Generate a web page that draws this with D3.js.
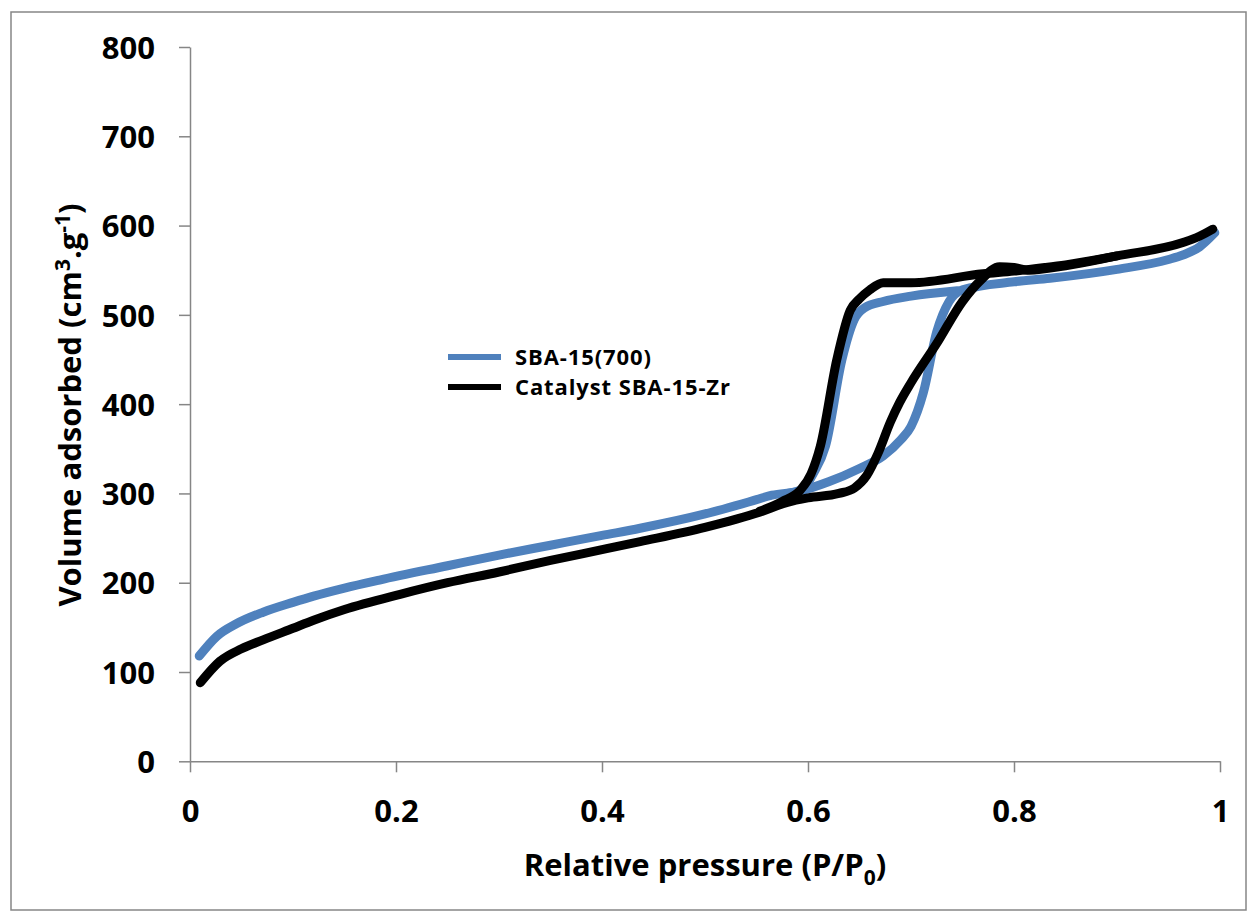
<!DOCTYPE html>
<html>
<head>
<meta charset="utf-8">
<script src="https://cdn.jsdelivr.net/npm/d3@7"></script>
<style>
  body { margin: 0; background: #fff; }
  text { font-family: "Open Sans", "Liberation Sans", sans-serif; font-weight: bold; fill: #000; }
</style>
</head>
<body>
<div id="chart"></div>
<script>
// relative pressure / volume adsorbed
const sbaAdsP = [0.009, 0.026, 0.045, 0.071, 0.1, 0.12, 0.15, 0.184, 0.25, 0.3, 0.35, 0.4, 0.437, 0.5, 0.55, 0.565, 0.59, 0.62, 0.65, 0.673, 0.69, 0.7, 0.712, 0.725, 0.737, 0.75, 0.8, 0.835, 0.9, 0.95, 0.964, 0.98, 0.995];
const sbaAdsV = [118, 140, 154, 167, 178, 185, 194, 203, 219, 231, 242, 253, 261, 277, 293, 298, 302, 313, 328, 342, 360, 375, 413, 481, 515, 528, 537, 541, 551, 562, 567, 576, 592];
const sbaDesP = [0.58, 0.595, 0.605, 0.617, 0.633, 0.645, 0.655, 0.673, 0.7, 0.745];
const sbaDesV = [300, 305, 322, 353, 450, 495, 508, 515, 521, 527];

const catAdsP = [0.01, 0.029, 0.05, 0.071, 0.1, 0.12, 0.15, 0.204, 0.25, 0.3, 0.35, 0.4, 0.437, 0.5, 0.553, 0.58, 0.6, 0.63, 0.645, 0.657, 0.668, 0.68, 0.689, 0.7, 0.725, 0.75, 0.767, 0.786, 0.8, 0.815, 0.85, 0.9, 0.964, 0.98, 0.993];
const catAdsV = [88, 112, 126, 136, 149, 158, 170, 187, 200, 212, 225, 237, 246, 262, 279, 290, 295, 300, 306, 320, 345, 380, 402, 424, 468, 515, 538, 554, 553, 550, 555, 566, 581, 588, 596];
const catDesP = [0.553, 0.575, 0.592, 0.603, 0.612, 0.628, 0.641, 0.65, 0.66, 0.673, 0.7, 0.77, 0.8, 0.83, 0.85, 0.9];
const catDesV = [280, 291, 303, 322, 353, 450, 505, 518, 528, 536, 536, 546, 549, 553, 556, 566];

const xTicks = [0, 0.2, 0.4, 0.6, 0.8, 1];
const yTicks = [0, 100, 200, 300, 400, 500, 600, 700, 800];

const seriesNames = ["SBA-15(700)", "Catalyst SBA-15-Zr"];
const colors = ["#4f81bd", "#000000"];

const W = 1248, H = 912;
const margin = {top: 47, right: 28, bottom: 151, left: 190};

const svg = d3.select("#chart").append("svg")
    .attr("width", W)
    .attr("height", H);

// outer frame
svg.append("rect")
    .attr("x", 11).attr("y", 12)
    .attr("width", W - 13).attr("height", H - 14)
    .attr("fill", "none")
    .attr("stroke", "#868686")
    .attr("stroke-width", 1.5);

const x = d3.scaleLinear().domain([0, 1]).range([margin.left, W - margin.right]);
const y = d3.scaleLinear().domain([0, 800]).range([H - margin.bottom + 0.3, margin.top]);

const xAxis = svg.append("g")
    .attr("transform", "translate(0," + y(0) + ")")
    .call(d3.axisBottom(x).tickValues(xTicks).tickSize(11).tickSizeOuter(0).tickFormat(d => d3.format("")(d)));
xAxis.selectAll("text")
    .attr("dy", 0)
    .attr("y", 61)
    .style("font-size", "31px");

const yAxis = svg.append("g")
    .attr("transform", "translate(" + x(0) + ",0)")
    .call(d3.axisLeft(y).tickValues(yTicks).tickSize(11).tickSizeOuter(0));
yAxis.selectAll("text")
    .attr("x", -35)
    .attr("dy", "0.36em")
    .style("font-size", "31px");

svg.selectAll(".domain, .tick line")
    .attr("stroke", "#868686")
    .attr("stroke-width", 1.5);

// curves
const line = d3.line()
    .x(d => x(d[0]))
    .y(d => y(d[1]))
    .curve(d3.curveMonotoneX);

const branches = [
  {p: sbaAdsP, v: sbaAdsV, c: 0},
  {p: sbaDesP, v: sbaDesV, c: 0},
  {p: catAdsP, v: catAdsV, c: 1},
  {p: catDesP, v: catDesV, c: 1}
];

svg.selectAll(".branch")
    .data(branches)
  .enter().append("path")
    .attr("class", "branch")
    .attr("d", b => line(d3.zip(b.p, b.v)))
    .attr("fill", "none")
    .attr("stroke", b => colors[b.c])
    .attr("stroke-width", 9)
    .attr("stroke-linecap", "round")
    .attr("stroke-linejoin", "round");

// legend
const legend = svg.selectAll(".legend")
    .data(seriesNames)
  .enter().append("g")
    .attr("class", "legend")
    .attr("transform", (d, i) => "translate(448," + (357 + i * 30) + ")");
legend.append("line")
    .attr("x1", 0).attr("x2", 53)
    .attr("stroke", (d, i) => colors[i])
    .attr("stroke-width", 6);
legend.append("text")
    .attr("x", 67)
    .attr("dy", "0.36em")
    .style("font-size", "22px")
    .style("letter-spacing", "0.9px")
    .text(d => d);

// axis titles
const xTitle = svg.append("text")
    .attr("x", 705)
    .attr("y", 876)
    .attr("text-anchor", "middle")
    .style("font-size", "31px");
xTitle.append("tspan").text("Relative pressure (P/P");
xTitle.append("tspan").attr("dy", 9).style("font-size", "21px").text("0");
xTitle.append("tspan").attr("dy", -9).text(")");

const yTitle = svg.append("text")
    .attr("transform", "translate(81,405) rotate(-90)")
    .attr("text-anchor", "middle")
    .style("font-size", "31px");
yTitle.append("tspan").text("Volume adsorbed (cm");
yTitle.append("tspan").attr("dy", -11).style("font-size", "21px").text("3");
yTitle.append("tspan").attr("dy", 11).text(".g");
yTitle.append("tspan").attr("dy", -11).style("font-size", "21px").text("-1");
yTitle.append("tspan").attr("dy", 11).text(")");
</script>
</body>
</html>
